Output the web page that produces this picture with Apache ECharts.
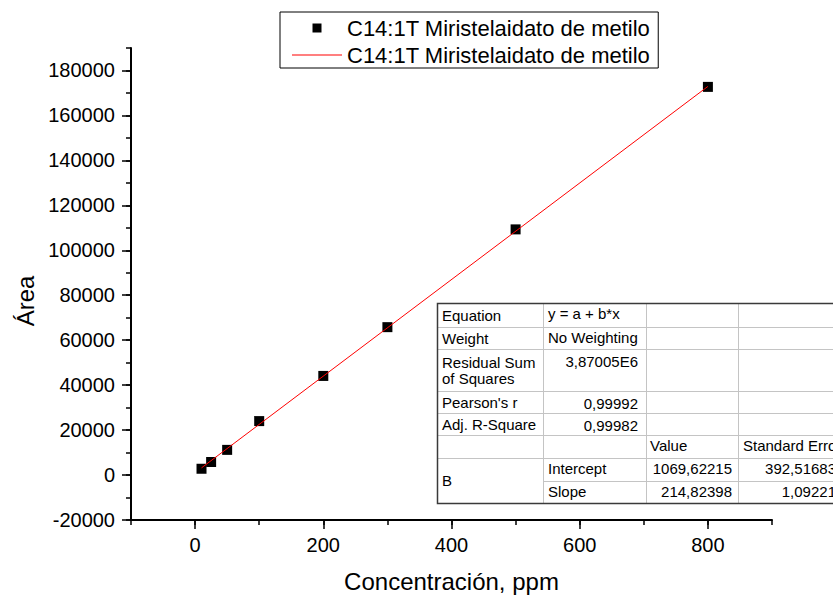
<!DOCTYPE html>
<html>
<head>
<meta charset="utf-8">
<title>C14:1T Miristelaidato de metilo</title>
<script src="https://cdn.jsdelivr.net/npm/echarts@6/dist/echarts.min.js"></script>
<style>
  html, body { margin: 0; padding: 0; background: #fff; overflow: hidden; }
  #main { width: 833px; height: 598px; }
</style>
</head>
<body>
<div id="main"></div>
<script>
// datos de la curva de calibracion
var concentracion = [10, 25, 50, 100, 200, 300, 500, 800];
var area = [2800, 5800, 11200, 24000, 44100, 65800, 109300, 172700];
// recta ajustada (extremos)
var ajusteX = [10, 800];
var ajusteY = [3200, 172900];
var serieNombre = 'C14:1T Miristelaidato de metilo';

var xTicks = [0, 200, 400, 600, 800];
var yTicks = [-20000, 0, 20000, 40000, 60000, 80000, 100000, 120000, 140000, 160000, 180000];

// tabla de la regresion
var statLabels = ['Equation', 'Weight', 'Residual Sum\nof Squares', "Pearson's r", 'Adj. R-Square'];
var statValues = ['y = a + b*x', 'No Weighting', '3,87005E6', '0,99992', '0,99982'];
var paramHeader = ['Value', 'Standard Error'];
var paramGroup = 'B';
var paramNames = ['Intercept', 'Slope'];
var paramValues = ['1069,62215', '214,82398'];
var paramErrors = ['392,51683', '1,09221'];

var FONT = '"Liberation Sans", Arial, sans-serif';

function tabla() {
	var colX = [437, 543, 646, 738, 845];
	var rowY = [303, 327, 349, 391, 413, 435, 458, 481, 503];
	var els = [];
	var txt = function(x, y, s, align, vAlign) {
		els.push({
			type: 'text', x: x, y: y, z: 20,
			style: { text: s, fill: '#000', font: '15px ' + FONT, align: align, verticalAlign: vAlign, lineHeight: 16 }
		});
	};
	var line = function(x1, y1, x2, y2) {
		els.push({
			type: 'line', z: 19,
			shape: { x1: x1, y1: y1, x2: x2, y2: y2 },
			style: { stroke: '#c4c4c4', lineWidth: 1 }
		});
	};
	els.push({
		type: 'rect', z: 18,
		shape: { x: colX[0], y: rowY[0], width: colX[4] - colX[0], height: rowY[8] - rowY[0] },
		style: { fill: '#fff', stroke: 'none' }
	});
	for (var r = 1; r < rowY.length - 1; r++) {
		line(r === 7 ? colX[1] : colX[0], rowY[r] + 0.5, colX[4], rowY[r] + 0.5);
	}
	for (var c = 1; c < colX.length - 1; c++) {
		line(colX[c] + 0.5, rowY[0], colX[c] + 0.5, rowY[8]);
	}
	els.push({
		type: 'rect', z: 21,
		shape: { x: colX[0] + 0.5, y: rowY[0] + 0.5, width: colX[4] - colX[0], height: rowY[8] - rowY[0] },
		style: { fill: 'none', stroke: '#3a3a3a', lineWidth: 1.5 }
	});
	for (var i = 0; i < statLabels.length; i++) {
		if (i === 2) {
			txt(colX[0] + 5, rowY[i] + 5, statLabels[i], 'left', 'top');
		} else {
			txt(colX[0] + 5, (rowY[i] + rowY[i + 1]) / 2, statLabels[i], 'left', 'middle');
		}
		if (i < 2) {
			txt(colX[1] + 5, rowY[i] + 2, statValues[i], 'left', 'top');
		} else {
			txt(colX[2] - 8, rowY[i] + 4, statValues[i], 'right', 'top');
		}
	}
	txt(colX[2] + 4, rowY[5] + 2, paramHeader[0], 'left', 'top');
	txt(colX[3] + 5, rowY[5] + 2, paramHeader[1], 'left', 'top');
	txt(colX[0] + 5, (rowY[6] + rowY[8]) / 2, paramGroup, 'left', 'middle');
	for (var k = 0; k < paramNames.length; k++) {
		txt(colX[1] + 5, rowY[6 + k] + 2, paramNames[k], 'left', 'top');
		txt(colX[3] - 6, rowY[6 + k] + 2, paramValues[k], 'right', 'top');
		txt(colX[4] - 9, rowY[6 + k] + 2, paramErrors[k], 'right', 'top');
	}
	return els;
}

function numero(v) { return String(v); }

var myChart = echarts.init(document.getElementById('main'), null, { renderer: 'svg' });
var option = {
	backgroundColor: '#fff',
	animation: false,
	textStyle: { fontFamily: FONT },
	legend: {
		orient: 'vertical',
		left: 280,
		top: 12,
		padding: [5, 8, 2, 12],
		itemGap: 5,
		itemWidth: 50,
		itemHeight: 9,
		borderColor: '#000',
		borderWidth: 1,
		symbolKeepAspect: true,
		textStyle: { fontSize: 22, color: '#000', fontFamily: FONT, lineHeight: 22 },
		formatter: function() { return serieNombre; },
		data: [
			{ name: 'puntos', icon: 'path://M0,0H10V10H0Z', itemStyle: { color: '#000', opacity: 1 } },
			{ name: 'ajuste', icon: 'path://M0,0H100V2H0Z', itemStyle: { color: '#ff0000' } }
		]
	},
	grid: { left: 131, right: 61, top: 48, bottom: 76 },
	xAxis: [{
		type: 'value',
		min: -100,
		max: 900,
		interval: 100,
		name: 'Concentración, ppm',
		nameLocation: 'middle',
		nameGap: 49,
		nameTextStyle: { fontSize: 24, color: '#000', fontFamily: FONT },
		axisLine: { onZero: false, lineStyle: { color: '#000', width: 2 } },
		axisTick: { length: 9, lineStyle: { width: 1.5, color: '#000' }, customValues: xTicks },
		axisLabel: { fontSize: 20, color: '#000', margin: 15, customValues: xTicks, formatter: numero },
		splitLine: { show: false }
	}, {
		type: 'value',
		min: -100,
		max: 900,
		interval: 100,
		position: 'bottom',
		axisLine: { show: false, onZero: false },
		axisTick: { length: 5, lineStyle: { width: 1.5, color: '#000' } },
		axisLabel: { show: false },
		splitLine: { show: false }
	}],
	yAxis: [{
		type: 'value',
		min: -20000,
		max: 190000,
		interval: 20000,
		name: 'Área',
		nameLocation: 'middle',
		nameGap: 92,
		nameRotate: 90,
		nameTextStyle: { fontSize: 24, color: '#000', fontFamily: FONT, padding: [0, 34, 0, 0] },
		axisLine: { onZero: false, lineStyle: { color: '#000', width: 2 } },
		axisTick: { length: 9, lineStyle: { width: 1.5, color: '#000' }, customValues: yTicks },
		axisLabel: { fontSize: 20, color: '#000', margin: 16, customValues: yTicks, formatter: numero },
		splitLine: { show: false }
	}, {
		type: 'value',
		min: -20000,
		max: 190000,
		interval: 10000,
		position: 'left',
		axisLine: { show: false, onZero: false },
		axisTick: { length: 5, lineStyle: { width: 1.5, color: '#000' } },
		axisLabel: { show: false },
		splitLine: { show: false }
	}],
	series: [{
		name: 'puntos',
		type: 'scatter',
		symbol: 'rect',
		symbolSize: 10,
		itemStyle: { color: '#000', opacity: 1 },
		data: concentracion.map(function(c, i) { return [c, area[i]]; }),
		z: 2
	}, {
		name: 'ajuste',
		type: 'line',
		symbol: 'none',
		lineStyle: { color: '#ff0000', width: 1 },
		itemStyle: { color: '#ff0000' },
		data: ajusteX.map(function(x, i) { return [x, ajusteY[i]]; }),
		z: 3
	}],
	graphic: tabla()
};
myChart.setOption(option);
</script>
</body>
</html>
